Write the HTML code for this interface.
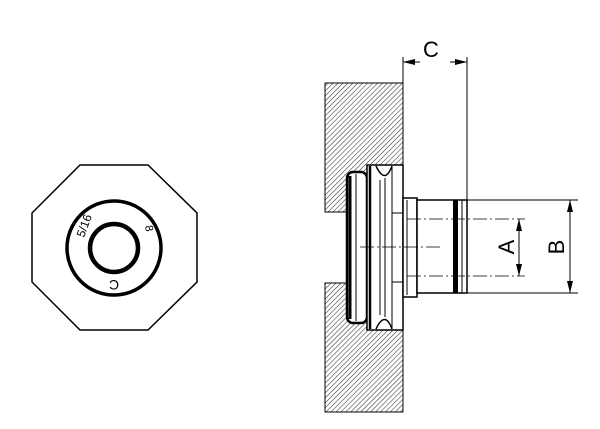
<!DOCTYPE html>
<html><head><style>body{margin:0;background:#fff}</style></head><body>
<svg width="600" height="424" viewBox="0 0 600 424" xmlns="http://www.w3.org/2000/svg" font-family="Liberation Sans, sans-serif">
<defs>
<pattern id="h" width="3.5" height="3.5" patternUnits="userSpaceOnUse" patternTransform="rotate(45)">
<rect width="3.5" height="3.5" fill="#fff"/><line x1="0" y1="0" x2="0" y2="3.5" stroke="#333" stroke-width="1.1"/>
</pattern>
<marker id="ar" markerWidth="12" markerHeight="6" refX="12" refY="3" orient="auto" markerUnits="userSpaceOnUse"><path d="M0,0L12,3L0,6Z" fill="#000"/></marker>
</defs>
<!-- left view -->
<polygon points="80,165 148,165 197,213 197,282 148,330 80,330 32,282 32,213" fill="none" stroke="#000" stroke-width="1.5"/>
<circle cx="114" cy="248" r="47" fill="none" stroke="#000" stroke-width="3.5"/>
<circle cx="114" cy="248" r="24" fill="none" stroke="#000" stroke-width="4.5"/>
<text x="84" y="238" font-size="12" transform="rotate(-70 84 238)">5/16</text>
<text x="145" y="226" font-size="11" transform="rotate(80 145 226)">8</text>
<text x="114" y="290" font-size="14" text-anchor="middle" transform="rotate(180 114 285)">C</text>
<!-- wall -->
<rect x="325" y="83" width="78" height="129" fill="url(#h)" stroke="#000" stroke-width="1"/>
<rect x="325" y="283" width="78" height="129" fill="url(#h)" stroke="#000" stroke-width="1"/>
<!-- o-ring -->
<rect x="347" y="172" width="20" height="151" rx="6" fill="#fff" stroke="#000" stroke-width="2.5"/>
<line x1="350" y1="176" x2="350" y2="319" stroke="#000" stroke-width="3"/>
<line x1="356" y1="174" x2="356" y2="321" stroke="#000" stroke-width="1"/>
<!-- flange -->
<rect x="367" y="165" width="36" height="165" fill="#fff" stroke="#000" stroke-width="1.5"/>
<line x1="370" y1="166" x2="370" y2="329" stroke="#000" stroke-width="2.5"/>
<path d="M376,166 Q385,185 392,166" fill="none" stroke="#000" stroke-width="1.5"/>
<path d="M376,329 Q385,310 392,329" fill="none" stroke="#000" stroke-width="1.5"/>
<line x1="380" y1="180" x2="380" y2="315" stroke="#000" stroke-width="1"/>
<line x1="385" y1="178" x2="385" y2="317" stroke="#000" stroke-width="1"/>
<line x1="392" y1="166" x2="392" y2="329" stroke="#000" stroke-width="1"/>
<line x1="392" y1="213" x2="403" y2="213" stroke="#000" stroke-width="1"/>
<line x1="392" y1="282" x2="403" y2="282" stroke="#000" stroke-width="1"/>
<!-- body -->
<rect x="403" y="198" width="14" height="99" fill="#fff" stroke="#000" stroke-width="1.5"/>
<line x1="407" y1="200" x2="407" y2="295" stroke="#000" stroke-width="1"/>
<rect x="417" y="200" width="50" height="93" fill="#fff" stroke="#000" stroke-width="1.5"/>
<rect x="453" y="200" width="5" height="93" fill="#000"/>
<line x1="462" y1="200" x2="462" y2="293" stroke="#000" stroke-width="1"/>
<!-- center lines -->
<line x1="360" y1="247" x2="440" y2="247" stroke="#000" stroke-width="0.8" stroke-dasharray="14,3,2,3"/>
<line x1="407" y1="219" x2="525" y2="219" stroke="#000" stroke-width="0.8" stroke-dasharray="14,3,2,3"/>
<line x1="407" y1="276" x2="525" y2="276" stroke="#000" stroke-width="0.8" stroke-dasharray="14,3,2,3"/>
<!-- dims -->
<line x1="403" y1="57" x2="403" y2="83" stroke="#000" stroke-width="1"/>
<line x1="467" y1="57" x2="467" y2="200" stroke="#000" stroke-width="1"/>
<line x1="420" y1="62" x2="403" y2="62" stroke="#000" stroke-width="1" marker-end="url(#ar)"/>
<line x1="450" y1="62" x2="467" y2="62" stroke="#000" stroke-width="1" marker-end="url(#ar)"/>
<text x="431" y="57" font-size="22" text-anchor="middle">C</text>
<line x1="467" y1="200" x2="578" y2="200" stroke="#000" stroke-width="1"/>
<line x1="467" y1="293" x2="578" y2="293" stroke="#000" stroke-width="1"/>
<line x1="519" y1="247" x2="519" y2="219" stroke="#000" stroke-width="1" marker-end="url(#ar)"/>
<line x1="519" y1="247" x2="519" y2="276" stroke="#000" stroke-width="1" marker-end="url(#ar)"/>
<text x="0" y="0" font-size="22" text-anchor="middle" transform="translate(514,247) rotate(-90)">A</text>
<line x1="570" y1="247" x2="570" y2="200" stroke="#000" stroke-width="1" marker-end="url(#ar)"/>
<line x1="570" y1="247" x2="570" y2="293" stroke="#000" stroke-width="1" marker-end="url(#ar)"/>
<text x="0" y="0" font-size="22" text-anchor="middle" transform="translate(564,247) rotate(-90)">B</text>
</svg>
</body></html>
